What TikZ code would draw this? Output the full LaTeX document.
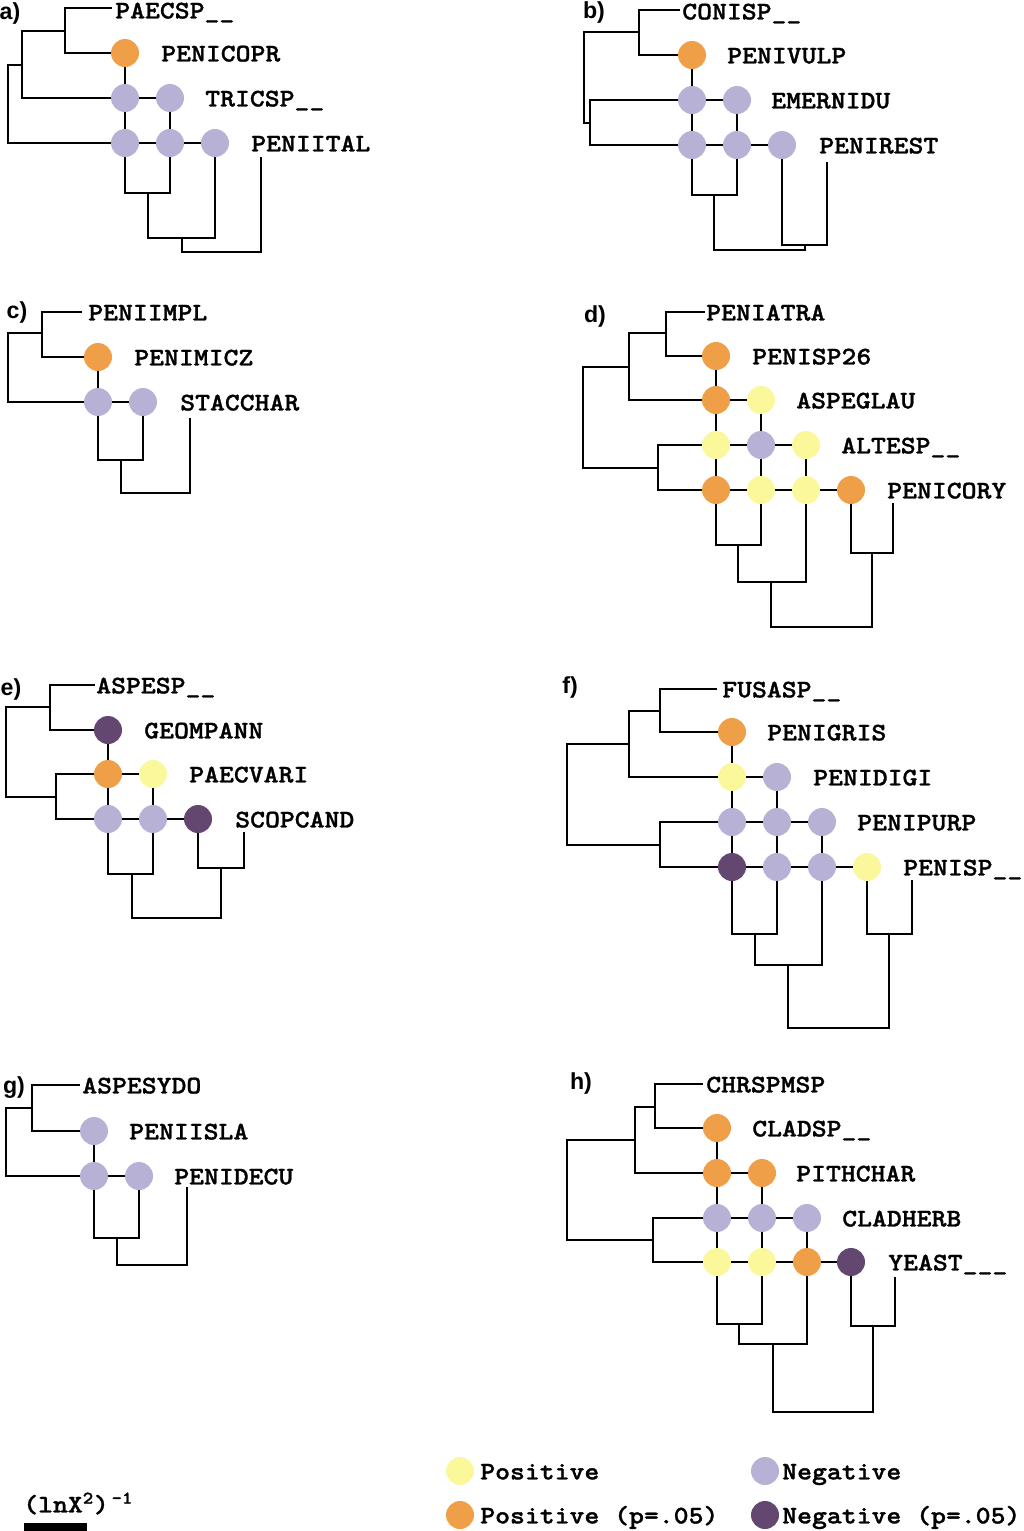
\documentclass[tikz,border=0pt]{standalone}
\usepackage{fontspec}
\usepackage{xcolor}
\usepackage{tikz}
\newfontfamily\tagfont{Liberation Sans}
\newfontfamily\taxfont{lmmonolt10-bold.otf}[FakeStretch=1.12, FakeBold=1.2]
\definecolor{ypos}{HTML}{FAF89A}
\definecolor{opos}{HTML}{EF9F47}
\definecolor{lneg}{HTML}{B8B1D6}
\definecolor{dneg}{HTML}{634771}
\tikzset{
  lin/.style={draw=black, line width=1.1pt},
  dot/.style={circle, inner sep=0pt, minimum size=7mm},
  lab/.style={anchor=base west, inner sep=0pt, yshift=-2.1mm, font=\taxfont\fontsize{18}{21}\selectfont},
  plab/.style={inner sep=0pt, font=\tagfont\bfseries\fontsize{16.5}{19}\selectfont},
}
\begin{document}
\begin{tikzpicture}[x=0.25mm, y=-0.25mm]
\useasboundingbox (0,0) rectangle (1024,1531);

\node[plab] (ta) at (10,13) {a)};
\foreach \n/\x/\y/\t in {1/115/10/PAECSP\_\_, 2/161/53/PENICOPR, 3/205/98/TRICSP\_\_, 4/251/143/PENIITAL}
  \node[lab] (na\n) at (\x,\y) {\t};
\foreach \n/\x/\y/\c in {21/125/53/opos, 31/125/98/lneg, 32/170/98/lneg, 41/125/143/lneg, 42/170/143/lneg, 43/215/143/lneg}
  \node[dot, fill=\c] (a\n) at (\x,\y) {};
\coordinate (a1) at (112,8);
\coordinate (a4e) at (261,157);
\coordinate (aL1) at (65,31);
\coordinate (aL2) at (22,65);
\coordinate (aL3) at (8,104);
\coordinate (aB1) at (148,193);
\coordinate (aB2) at (182,238);
\coordinate (aB3) at (220,252);
\draw[lin] (a1) -| (aL1) |- (a21);
\draw[lin] (aL1) -| (aL2) |- (a31);
\draw[lin] (aL2) -| (aL3) |- (a41);
\draw[lin] (a41) |- (aB1) -| (a42);
\draw[lin] (aB1) |- (aB2) -| (a43);
\draw[lin] (aB2) |- (aB3) -| (a4e);

\node[plab] (tb) at (594,12) {b)};
\foreach \n/\x/\y/\t in {1/682/11/CONISP\_\_, 2/727/55/PENIVULP, 3/771/100/EMERNIDU, 4/819/145/PENIREST}
  \node[lab] (nb\n) at (\x,\y) {\t};
\foreach \n/\x/\y/\c in {21/692/55/opos, 31/692/100/lneg, 32/737/100/lneg, 41/692/145/lneg, 42/737/145/lneg, 43/782/145/lneg}
  \node[dot, fill=\c] (b\n) at (\x,\y) {};
\coordinate (b1) at (680,10);
\coordinate (b4e) at (827,162);
\coordinate (bL1) at (639,32);
\coordinate (bL2) at (590,123);
\coordinate (bL3) at (584,77);
\coordinate (bB1) at (714,195);
\coordinate (bB2) at (805,245);
\coordinate (bB3) at (760,250);
\draw[lin] (b1) -| (bL1) |- (b21);
\draw[lin] (b31) -| (bL2) |- (b41);
\draw[lin] (bL1) -| (bL3) |- (bL2);
\draw[lin] (b41) |- (bB1) -| (b42);
\draw[lin] (b43) |- (bB2) -| (b4e);
\draw[lin] (bB1) |- (bB3) -| (bB2);

\node[plab] (tc) at (17,312) {c)};
\foreach \n/\x/\y/\t in {1/88/312/PENIIMPL, 2/134/357/PENIMICZ, 3/180/402/STACCHAR}
  \node[lab] (nc\n) at (\x,\y) {\t};
\foreach \n/\x/\y/\c in {21/98/357/opos, 31/98/402/lneg, 32/143/402/lneg}
  \node[dot, fill=\c] (c\n) at (\x,\y) {};
\coordinate (c1) at (82,312);
\coordinate (c3e) at (190,418);
\coordinate (cL1) at (42,333);
\coordinate (cL2) at (8,368);
\coordinate (cB1) at (121,460);
\coordinate (cB2) at (155,493);
\draw[lin] (c1) -| (cL1) |- (c21);
\draw[lin] (cL1) -| (cL2) |- (c31);
\draw[lin] (c31) |- (cB1) -| (c32);
\draw[lin] (cB1) |- (cB2) -| (c3e);

\node[plab] (td) at (595,316) {d)};
\foreach \n/\x/\y/\t in {1/706/312/PENIATRA, 2/752/356/PENISP26, 3/796/400/ASPEGLAU, 4/841/445/ALTESP\_\_, 5/887/490/PENICORY}
  \node[lab] (nd\n) at (\x,\y) {\t};
\foreach \n/\x/\y/\c in {21/716/356/opos, 31/716/400/opos, 32/761/400/ypos, 41/716/445/ypos, 42/761/445/lneg, 43/806/445/ypos, 51/716/490/opos, 52/761/490/ypos, 53/806/490/ypos, 54/851/490/opos}
  \node[dot, fill=\c] (d\n) at (\x,\y) {};
\coordinate (d1) at (705,312);
\coordinate (d5e) at (893,503);
\coordinate (dL1) at (666,333);
\coordinate (dL2) at (629,367);
\coordinate (dL3) at (658,468);
\coordinate (dL4) at (583,418);
\coordinate (dB1) at (738,545);
\coordinate (dB2) at (771,582);
\coordinate (dB3) at (872,553);
\coordinate (dB4) at (820,627);
\draw[lin] (d1) -| (dL1) |- (d21);
\draw[lin] (dL1) -| (dL2) |- (d31);
\draw[lin] (d41) -| (dL3) |- (d51);
\draw[lin] (dL2) -| (dL4) |- (dL3);
\draw[lin] (d51) |- (dB1) -| (d52);
\draw[lin] (dB1) |- (dB2) -| (d53);
\draw[lin] (d54) |- (dB3) -| (d5e);
\draw[lin] (dB2) |- (dB4) -| (dB3);

\node[plab] (te) at (11,689) {e)};
\foreach \n/\x/\y/\t in {1/96/685/ASPESP\_\_, 2/144/730/GEOMPANN, 3/189/774/PAECVARI, 4/235/819/SCOPCAND}
  \node[lab] (ne\n) at (\x,\y) {\t};
\foreach \n/\x/\y/\c in {21/108/730/dneg, 31/108/774/opos, 32/153/774/ypos, 41/108/819/lneg, 42/153/819/lneg, 43/198/819/dneg}
  \node[dot, fill=\c] (e\n) at (\x,\y) {};
\coordinate (e1) at (95,685);
\coordinate (e4e) at (244,832);
\coordinate (eL1) at (50,707);
\coordinate (eL2) at (56,797);
\coordinate (eL3) at (6,750);
\coordinate (eB1) at (132,874);
\coordinate (eB2) at (221,868);
\coordinate (eB3) at (176,918);
\draw[lin] (e1) -| (eL1) |- (e21);
\draw[lin] (e31) -| (eL2) |- (e41);
\draw[lin] (eL1) -| (eL3) |- (eL2);
\draw[lin] (e41) |- (eB1) -| (e42);
\draw[lin] (e43) |- (eB2) -| (e4e);
\draw[lin] (eB1) |- (eB3) -| (eB2);

\node[plab] (tf) at (570,687) {f)};
\foreach \n/\x/\y/\t in {1/722/689/FUSASP\_\_, 2/767/732/PENIGRIS, 3/813/777/PENIDIGI, 4/857/822/PENIPURP, 5/903/867/PENISP\_\_}
  \node[lab] (nf\n) at (\x,\y) {\t};
\foreach \n/\x/\y/\c in {21/732/732/opos, 31/732/777/ypos, 32/777/777/lneg, 41/732/822/lneg, 42/777/822/lneg, 43/822/822/lneg, 51/732/867/dneg, 52/777/867/lneg, 53/822/867/lneg, 54/867/867/ypos}
  \node[dot, fill=\c] (f\n) at (\x,\y) {};
\coordinate (f1) at (717,689);
\coordinate (f5e) at (912,880);
\coordinate (fL1) at (660,711);
\coordinate (fL2) at (629,744);
\coordinate (fL3) at (660,845);
\coordinate (fL4) at (567,795);
\coordinate (fB1) at (755,934);
\coordinate (fB2) at (788,965);
\coordinate (fB3) at (889,934);
\coordinate (fB4) at (840,1028);
\draw[lin] (f1) -| (fL1) |- (f21);
\draw[lin] (fL1) -| (fL2) |- (f31);
\draw[lin] (f41) -| (fL3) |- (f51);
\draw[lin] (fL2) -| (fL4) |- (fL3);
\draw[lin] (f51) |- (fB1) -| (f52);
\draw[lin] (fB1) |- (fB2) -| (f53);
\draw[lin] (f54) |- (fB3) -| (f5e);
\draw[lin] (fB2) |- (fB4) -| (fB3);

\node[plab] (tg) at (14,1088) {g)};
\foreach \n/\x/\y/\t in {1/82/1085/ASPESYDO, 2/129/1131/PENIISLA, 3/174/1176/PENIDECU}
  \node[lab] (ng\n) at (\x,\y) {\t};
\foreach \n/\x/\y/\c in {21/94/1131/lneg, 31/94/1176/lneg, 32/139/1176/lneg}
  \node[dot, fill=\c] (g\n) at (\x,\y) {};
\coordinate (g1) at (80,1085);
\coordinate (g3e) at (187,1187);
\coordinate (gL1) at (32,1108);
\coordinate (gL2) at (6,1140);
\coordinate (gB1) at (117,1238);
\coordinate (gB2) at (150,1265);
\draw[lin] (g1) -| (gL1) |- (g21);
\draw[lin] (gL1) -| (gL2) |- (g31);
\draw[lin] (g31) |- (gB1) -| (g32);
\draw[lin] (gB1) |- (gB2) -| (g3e);

\node[plab] (th) at (581,1083) {h)};
\foreach \n/\x/\y/\t in {1/706/1084/CHRSPMSP, 2/752/1128/CLADSP\_\_, 3/796/1173/PITHCHAR, 4/842/1218/CLADHERB, 5/888/1262/YEAST\_\_\_}
  \node[lab] (nh\n) at (\x,\y) {\t};
\foreach \n/\x/\y/\c in {21/717/1128/opos, 31/717/1173/opos, 32/762/1173/opos, 41/717/1218/lneg, 42/762/1218/lneg, 43/807/1218/lneg, 51/717/1262/ypos, 52/762/1262/ypos, 53/807/1262/opos, 54/851/1262/dneg}
  \node[dot, fill=\c] (h\n) at (\x,\y) {};
\coordinate (h1) at (703,1084);
\coordinate (h5e) at (895,1277);
\coordinate (hL1) at (655,1107);
\coordinate (hL2) at (635,1140);
\coordinate (hL3) at (653,1240);
\coordinate (hL4) at (567,1190);
\coordinate (hB1) at (739,1324);
\coordinate (hB2) at (773,1344);
\coordinate (hB3) at (873,1326);
\coordinate (hB4) at (820,1412);
\draw[lin] (h1) -| (hL1) |- (h21);
\draw[lin] (hL1) -| (hL2) |- (h31);
\draw[lin] (h41) -| (hL3) |- (h51);
\draw[lin] (hL2) -| (hL4) |- (hL3);
\draw[lin] (h51) |- (hB1) -| (h52);
\draw[lin] (hB1) |- (hB2) -| (h53);
\draw[lin] (h54) |- (hB3) -| (h5e);
\draw[lin] (hB2) |- (hB4) -| (hB3);

\foreach \p in {c,g}
  \foreach \u/\v in {21/31,31/32}
    \draw[lin] (\p\u) -- (\p\v);
\foreach \p in {a,b,e}
  \foreach \u/\v in {21/31,31/41,32/42,31/32,41/42,42/43}
    \draw[lin] (\p\u) -- (\p\v);
\foreach \p in {d,f,h}
  \foreach \u/\v in {21/31,31/41,41/51,32/42,42/52,43/53,31/32,41/42,42/43,51/52,52/53,53/54}
    \draw[lin] (\p\u) -- (\p\v);

\node[dot, fill=ypos] (ky) at (460,1471) {};
\node[dot, fill=opos] (ko) at (460,1515) {};
\node[dot, fill=lneg] (kl) at (765,1471) {};
\node[dot, fill=dneg] (kd) at (765,1515) {};
\node[lab] (tky) at (480,1471) {Positive};
\node[lab] (tko) at (480,1515) {Positive (p=.05)};
\node[lab] (tkl) at (782,1471) {Negative};
\node[lab] (tkd) at (782,1515) {Negative (p=.05)};

\node[lab] (sc) at (23,1504) {(lnX\textsuperscript{2})\hspace{2pt}\textsuperscript{-1}};
\fill[black] (24,1523) rectangle (87,1531);
\end{tikzpicture}
\end{document}
